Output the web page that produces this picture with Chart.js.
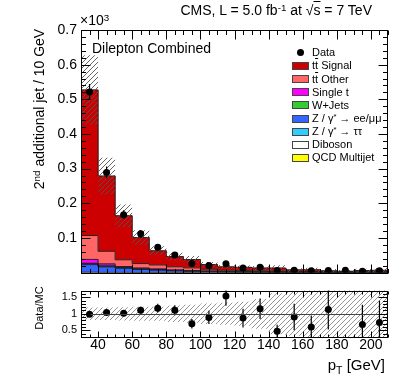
<!DOCTYPE html>
<html><head><meta charset="utf-8">
<script src="https://cdn.jsdelivr.net/npm/chart.js@4.4.1/dist/chart.umd.min.js"></script>
<style>
html,body{margin:0;padding:0;background:#fff;}
#wrap{position:relative;width:407px;height:390px;overflow:hidden;font-family:"Liberation Sans",Arial,Helvetica,sans-serif;color:#000;}
#wrap canvas{position:absolute;left:0;}
.t{position:absolute;white-space:nowrap;line-height:1;}
.sup{font-size:70%;position:relative;top:-0.45em;}
.sub{font-size:70%;position:relative;top:0.35em;}
.ov{text-decoration:overline;}
.lg{position:absolute;white-space:nowrap;font-size:11px;line-height:13px;}
.bx{position:absolute;width:15px;height:6px;border:1px solid #444;}
.dot{position:absolute;width:7px;height:7px;border-radius:50%;background:#000;}
</style></head><body>
<div id="wrap">
 <canvas id="mainCanvas" width="407" height="285" style="top:0"></canvas>
 <canvas id="ratioCanvas" width="407" height="110" style="top:280px"></canvas>
 <div class="t" style="right:35px;top:3px;font-size:14px">CMS, L = 5.0 fb<span class="sup">-1</span> at √<span class="ov">s</span> = 7 TeV</div>
 <div class="t" style="left:80px;top:13px;font-size:14px">×10<span class="sup">3</span></div>
 <div class="t" style="left:92px;top:41px;font-size:14px">Dilepton Combined</div>
 <div class="t" style="left:39px;top:109px;font-size:14px;transform:translate(-50%,-50%) rotate(-90deg)">2<span class="sup">nd</span> additional jet / 10 GeV</div>
 <div class="t" style="left:39px;top:308px;font-size:11px;transform:translate(-50%,-50%) rotate(-90deg)">Data/MC</div>
 <div class="t" style="right:22px;top:357px;font-size:15px">p<span class="sub">T</span> [GeV]</div>
 <div id="legend"></div>
</div>
<script>
// ---------- data (yields in units of 10^3 events) ----------
const binEdges = [30,40,50,60,70,80,90,100,110,120,130,140,150,160,170,180,190,200,210];
const xTickLabels = [40,60,80,100,120,140,160,180,200];
const yTickLabels = [0.1,0.2,0.3,0.4,0.5,0.6,0.7];
const ratioTickLabels = [0.5,1,1.5];
const dataYield = [0.521,0.289,0.167,0.112,0.0733,0.0511,0.0263,0.0207,0.0254,0.0133,0.0152,0.0060,0.0069,0.0050,0.0060,0.0069,0.0041,0.0050];
const dataErr   = [0.023,0.017,0.013,0.0106,0.0086,0.0071,0.0051,0.0045,0.0050,0.0036,0.0039,0.0025,0.0026,0.0022,0.0024,0.0026,0.0020,0.0022];
const ttSignal    = [0.420,0.2170,0.1270,0.0750,0.0410,0.0293,0.0239,0.0137,0.0098,0.0096,0.0083,0.0087,0.0047,0.0052,0.0032,0.0024,0.0037,0.0043];
const ttOther     = [0.069,0.0365,0.0195,0.0127,0.0114,0.0090,0.0075,0.0050,0.0035,0.0030,0.0026,0.0024,0.0015,0.0016,0.0010,0.0008,0.0012,0.0013];
const singleTop   = [0.011,0.0055,0.0030,0.0025,0.0020,0.0015,0.0012,0.0009,0.0007,0.0006,0.0005,0.0004,0.0003,0.0003,0.0002,0.0002,0.0002,0.0002];
const wJets       = [0.001,0.0010,0.0005,0.0005,0.0003,0.0003,0.0002,0.0002,0.0001,0.0001,0.0001,0.0001,0.0001,0.0001,0.0001,0,0.0001,0.0001];
const zEEMuMu     = [0.022,0.0160,0.0120,0.0090,0.0070,0.0050,0.0040,0.0030,0.0020,0.0017,0.0014,0.0012,0.0009,0.0009,0.0006,0.0005,0.0006,0.0007];
const zTauTau     = [0.003,0.0020,0.0015,0.0010,0.0010,0.0007,0.0005,0.0004,0.0003,0.0002,0.0002,0.0001,0.0001,0.0001,0.0001,0.0001,0.0001,0.0001];
const diboson     = [0.001,0.0005,0.0005,0.0003,0.0003,0.0002,0.0002,0.0001,0.0001,0.0001,0.0001,0.0001,0.0001,0.0001,0.0001,0,0.0001,0.0001];
const qcdMultijet = [0,0,0,0,0,0,0,0,0,0,0,0,0,0,0,0,0,0];
const mcRelUnc = [0.19,0.19,0.20,0.21,0.21,0.25,0.27,0.31,0.33,0.36,0.45,0.62,0.66,0.72,0.9,0.9,0.9,0.9];
// Data/MC ratio (185 GeV bin lies above the displayed range)
const ratio    = [0.99,1.04,1.02,1.11,1.17,1.11,0.70,0.89,1.54,0.87,1.15,0.47,0.90,0.60,1.13,null,0.675,0.74];
const ratioErr = [0.045,0.06,0.08,0.10,0.13,0.15,0.14,0.20,0.30,0.28,0.31,0.20,0.40,0.35,0.60,null,0.60,0.65];

const SIG='t<span class="ov">t</span> Signal', OTH='t<span class="ov">t</span> Other', ST='Single t', WJ='W+Jets',
      ZLL='Z / γ<span class="sup">*</span> → ee/μμ', ZTT='Z / γ<span class="sup">*</span> → ττ', DB='Diboson', QCD='QCD Multijet';
// stack, bottom to top
const stack = [
  {label:QCD, values:qcdMultijet, color:'#FFFF00'},
  {label:DB,  values:diboson, color:'#FFFFFF'},
  {label:ZLL, values:zEEMuMu, color:'#3366FF'},
  {label:ZTT, values:zTauTau, color:'#33CCFF'},
  {label:WJ,  values:wJets, color:'#33CC33'},
  {label:ST,  values:singleTop, color:'#FF00FF'},
  {label:OTH, values:ttOther, color:'#FF6666'},
  {label:SIG, values:ttSignal, color:'#CC0000'}
];
const legendOrder = [SIG, OTH, ST, WJ, ZLL, ZTT, DB, QCD];

Chart.defaults.font.family = '"Liberation Sans", Arial, Helvetica, sans-serif';
Chart.defaults.color = '#000';

const centers = binEdges.slice(0,-1).map((e,i)=>(e+binEdges[i+1])/2);

function makeHatch(ctx, color){
  const n=5, c=document.createElement('canvas'); c.width=n; c.height=n;
  const g=c.getContext('2d'); g.strokeStyle=color; g.lineWidth=0.9;
  g.beginPath(); g.moveTo(0,n); g.lineTo(n,0); g.moveTo(-1,1); g.lineTo(1,-1); g.moveTo(n-1,n+1); g.lineTo(n+1,n-1); g.stroke();
  return ctx.createPattern(c,'repeat');
}
const setTicks = arr => (s => { s.ticks = arr.map(v=>({value:v})); });

const frameTicks = {
  id:'frameTicks',
  afterDatasetsDraw(chart, args, o){
    const {ctx, chartArea:a} = chart; const xs=chart.scales.x, ys=chart.scales.y;
    const L=Math.round(a.left)+0.5, R=Math.round(a.right)-0.5, T=Math.round(a.top)+0.5, B=Math.round(a.bottom)+0.5;
    ctx.save();
    if (o.refLine !== undefined){
      const py=Math.round(ys.getPixelForValue(o.refLine))+0.5;
      ctx.strokeStyle='#444'; ctx.lineWidth=1; ctx.beginPath(); ctx.moveTo(L,py); ctx.lineTo(R,py); ctx.stroke();
    }
    ctx.strokeStyle='#000'; ctx.lineWidth=1; ctx.beginPath();
    const near=(v,s)=>Math.abs(v/s-Math.round(v/s))<1e-6;
    for (let k=Math.ceil(xs.min/o.xMinor-1e-9); k*o.xMinor<=xs.max+1e-9; k++){
      const v=k*o.xMinor, px=Math.round(xs.getPixelForValue(v))+0.5, len=near(v,o.xMajor)?o.xMajLen:o.xMinLen;
      ctx.moveTo(px,B); ctx.lineTo(px,B-len); ctx.moveTo(px,T); ctx.lineTo(px,T+len);
    }
    for (let k=Math.ceil(ys.min/o.yMinor-1e-9); k*o.yMinor<=ys.max+1e-9; k++){
      const v=k*o.yMinor, py=Math.round(ys.getPixelForValue(v))+0.5, len=near(v,o.yMajor)?o.yMajLen:o.yMinLen;
      ctx.moveTo(L,py); ctx.lineTo(L+len,py); ctx.moveTo(R,py); ctx.lineTo(R-len,py);
    }
    ctx.stroke();
    ctx.strokeRect(L,T,R-L,B-T);
    ctx.restore();
  }
};

// ---------- main panel ----------
const mainCtx = document.getElementById('mainCanvas').getContext('2d');
let cum = centers.map(()=>0);
const mcBars=[], mcLines=[];
stack.forEach(c=>{
  const lo=cum.slice(); cum=cum.map((v,i)=>v+c.values[i]); const hi=cum.slice();
  mcBars.push({type:'bar', label:c.label, data:centers.map((x,i)=>({x, y:c.values[i]>0?[lo[i],hi[i]]:null})),
    backgroundColor:c.color, borderWidth:0, grouped:false, barPercentage:1, categoryPercentage:1, order:10, clip:0});
  mcLines.push({type:'line', data:binEdges.map((x,i)=>({x, y:hi[Math.min(i,hi.length-1)]})), stepped:true,
    borderColor:'#222', borderWidth:1, pointRadius:0, fill:false, order:5, clip:0});
});
const mcTotal = cum;
const bandMain = {type:'bar', data:centers.map((x,i)=>({x, y:[mcTotal[i]*(1-mcRelUnc[i]), mcTotal[i]*(1+mcRelUnc[i])]})),
  backgroundColor:makeHatch(mainCtx,'#555'), borderWidth:0, grouped:false, barPercentage:1, categoryPercentage:1, inflateAmount:0, order:3, clip:0};
const errMain = {type:'bar', data:centers.map((x,i)=>({x, y:[dataYield[i]-dataErr[i], dataYield[i]+dataErr[i]]})),
  backgroundColor:'#000', barThickness:1.2, grouped:false, inflateAmount:0, order:2, clip:0};
const ptsMain = {type:'line', label:'Data', data:centers.map((x,i)=>({x, y:dataYield[i]})), showLine:false,
  pointRadius:3.5, pointBackgroundColor:'#000', pointBorderWidth:0, order:1};

new Chart(mainCtx, {
  type:'bar',
  data:{datasets:[ptsMain, errMain, bandMain, ...mcLines, ...mcBars]},
  options:{
    responsive:false, animation:false, events:[],
    layout:{padding:{left:0,right:19,top:30,bottom:2.5}},
    plugins:{legend:{display:false}, tooltip:{enabled:false},
      frameTicks:{xMajor:20,xMinor:5,xMajLen:9,xMinLen:4.5,yMajor:0.1,yMinor:0.02,yMajLen:9,yMinLen:4.5}},
    scales:{
      x:{type:'linear', min:30, max:210, offset:false, display:false, grid:{display:false}, afterBuildTicks:setTicks(xTickLabels)},
      y:{type:'linear', min:0, max:0.7, grid:{display:false, drawTicks:false}, border:{display:false},
         afterBuildTicks:setTicks(yTickLabels),
         ticks:{padding:4, font:{size:14}, color:'#000', callback:v=> v.toFixed(1)},
         afterFit(s){ s.width=81; }}
    }
  },
  plugins:[frameTicks]
});

// ---------- ratio panel ----------
const ratioCtx = document.getElementById('ratioCanvas').getContext('2d');
const bandRatio = {type:'bar', data:centers.map((x,i)=>({x, y:[1-mcRelUnc[i], 1+mcRelUnc[i]]})),
  backgroundColor:makeHatch(ratioCtx,'#888'), borderWidth:0, grouped:false, barPercentage:1, categoryPercentage:1, inflateAmount:0, order:3, clip:0};
const errRatio = {type:'bar', data:centers.map((x,i)=>({x, y: ratio[i]===null?null:[ratio[i]-ratioErr[i], ratio[i]+ratioErr[i]]})),
  backgroundColor:'#000', barThickness:1.2, grouped:false, inflateAmount:0, order:2, clip:0};
const ptsRatio = {type:'line', data:centers.map((x,i)=>({x, y:ratio[i]})), showLine:false,
  pointRadius:3.5, pointBackgroundColor:'#000', pointBorderWidth:0, order:1, clip:0};

new Chart(ratioCtx, {
  type:'bar',
  data:{datasets:[ptsRatio, errRatio, bandRatio]},
  options:{
    responsive:false, animation:false, events:[],
    layout:{padding:{left:0,right:19,top:2.5,bottom:23}},
    plugins:{legend:{display:false}, tooltip:{enabled:false},
      frameTicks:{xMajor:20,xMinor:5,xMajLen:6,xMinLen:3,yMajor:0.5,yMinor:0.1,yMajLen:9,yMinLen:4.5,refLine:1}},
    scales:{
      x:{type:'linear', min:30, max:210, offset:false, grid:{display:false, drawTicks:false}, border:{display:false},
         afterBuildTicks:setTicks(xTickLabels),
         ticks:{padding:0, maxRotation:0, autoSkip:false, font:{size:14}, color:'#000', callback:v=>String(v)},
         afterFit(s){ s.height=30; }},
      y:{type:'linear', min:0.3, max:1.7, grid:{display:false, drawTicks:false}, border:{display:false},
         afterBuildTicks:setTicks(ratioTickLabels),
         ticks:{padding:4, font:{size:11}, color:'#000', callback:v=>String(v)},
         afterFit(s){ s.width=81; }}
    }
  },
  plugins:[frameTicks]
});

// ---------- legend ----------
const lg = document.getElementById('legend');
const rowY = k => 52.7 + 13.16*k;
let html = `<div class="dot" style="left:296.5px;top:${rowY(0)-3.5}px"></div><div class="lg" style="left:312px;top:${rowY(0)-6.5}px">${ptsMain.label}</div>`;
legendOrder.forEach((lab,k)=>{
  const c = stack.find(s=>s.label===lab); const y=rowY(k+1);
  html += `<div class="bx" style="left:292px;top:${y-4}px;background:${c.color}"></div><div class="lg" style="left:312px;top:${y-6.5}px">${c.label}</div>`;
});
lg.innerHTML = html;
</script>
</body></html>
